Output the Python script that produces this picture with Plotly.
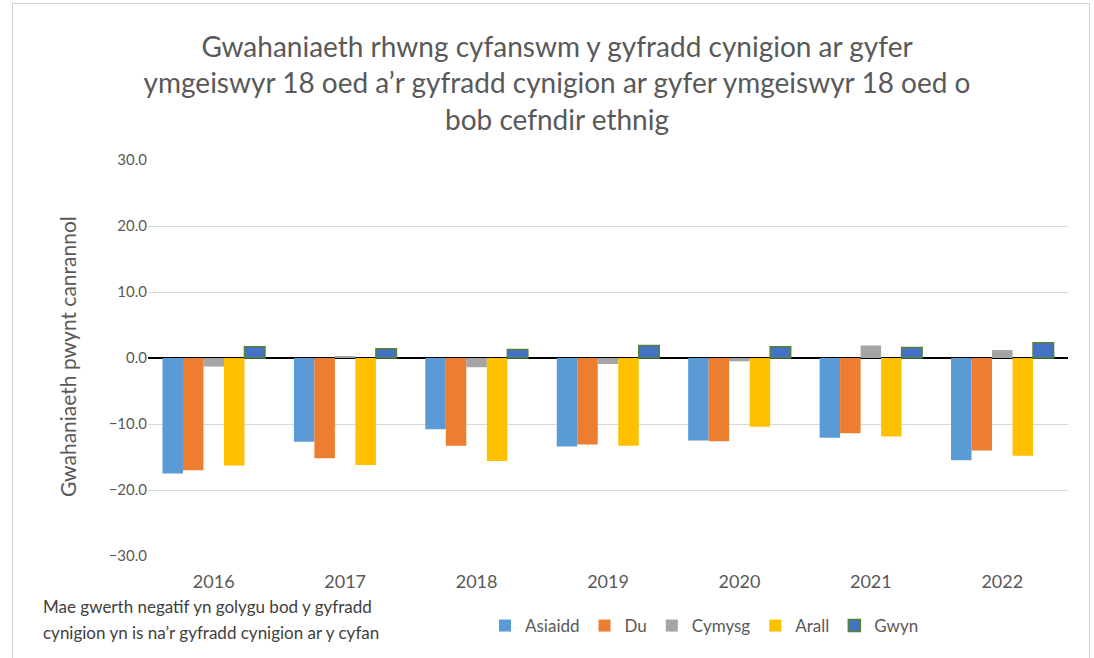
import plotly.graph_objects as go

years = ["2016", "2017", "2018", "2019", "2020", "2021", "2022"]
asiaidd = [-17.5, -12.7, -10.8, -13.4, -12.5, -12.1, -15.5]
du = [-17.0, -15.2, -13.3, -13.1, -12.6, -11.4, -14.0]
cymysg = [-1.3, 0.2, -1.4, -0.9, -0.5, 1.9, 1.2]
arall = [-16.3, -16.2, -15.6, -13.3, -10.4, -11.9, -14.8]
gwyn = [1.7, 1.4, 1.3, 1.9, 1.7, 1.6, 2.3]

series = [
    ("Asiaidd", asiaidd, "#5B9BD5", None),
    ("Du", du, "#ED7D31", None),
    ("Cymysg", cymysg, "#A5A5A5", None),
    ("Arall", arall, "#FFC000", None),
    ("Gwyn", gwyn, "#4472C4", "#548235"),
]

FONT = "Lato, Liberation Sans, sans-serif"
GREY = "#595959"

fig = go.Figure()
for name, vals, col, lc in series:
    fig.add_trace(go.Bar(
        name=name, x=years, y=vals,
        marker=dict(color=col,
                    line=dict(color=lc if lc else col, width=1.5 if lc else 0)),
    ))

W, H = 1094, 658
L, T = 148, 160
R = W - 1068
B = H - 556
pw = W - L - R
ph = H - T - B

def px(x):  # reference pixel -> paper
    return (x - L) / pw

def py(y):
    return (H - B - y) / ph

fig.update_layout(
    width=W, height=H,
    margin=dict(l=L, r=R, t=T, b=B),
    paper_bgcolor="white", plot_bgcolor="white",
    barmode="group", bargap=0.22, bargroupgap=0,
    font=dict(family=FONT, color=GREY, size=15),
    title=dict(
        text="Gwahaniaeth rhwng cyfanswm y gyfradd cynigion ar gyfer<br>ymgeiswyr 18 oed a’r gyfradd cynigion ar gyfer ymgeiswyr 18 oed o<br>bob cefndir ethnig",
        x=557 / W, xanchor="center", xref="container",
        y=1 - 57 / H, yanchor="middle", yref="container",
        font=dict(size=28, color=GREY, family=FONT),
    ),
    legend=dict(
        orientation="h", x=px(485), xanchor="left", y=py(626), yanchor="middle",
        font=dict(size=17, color=GREY), itemwidth=30, tracegroupgap=0,
        bgcolor="rgba(0,0,0,0)",
    ),
    xaxis=dict(
        showgrid=False, showline=False, ticks="outside", ticklen=9,
        tickcolor="rgba(0,0,0,0)",
        tickfont=dict(size=18, color=GREY),
    ),
    yaxis=dict(
        range=[-30, 30], dtick=10, tickformat=".1f",
        showgrid=True, gridcolor="#D9D9D9", gridwidth=1,
        zeroline=True, zerolinecolor="#000000", zerolinewidth=2,
        showline=False, ticks="",
        tickfont=dict(size=15, color=GREY),
    ),
    shapes=[dict(type="rect", xref="paper", yref="paper",
                 x0=px(12.5), x1=px(1089.5), y0=py(700), y1=py(3.5),
                 line=dict(color="#D0D0D0", width=1), fillcolor="rgba(0,0,0,0)",
                 layer="below")],
    annotations=[
        dict(text="Gwahaniaeth pwynt canrannol", textangle=-90,
             xref="paper", yref="paper", x=px(67), y=py(357),
             xanchor="center", yanchor="middle", showarrow=False,
             font=dict(size=21, color=GREY)),
        dict(text="Mae gwerth negatif yn golygu bod y gyfradd",
             xref="paper", yref="paper", x=px(41), y=py(606),
             xanchor="left", yanchor="middle", align="left", showarrow=False,
             font=dict(size=17, color="#404040")),
        dict(text="cynigion yn is na’r gyfradd cynigion ar y cyfan",
             xref="paper", yref="paper", x=px(41), y=py(632),
             xanchor="left", yanchor="middle", align="left", showarrow=False,
             font=dict(size=17, color="#404040")),
    ],
)

fig.write_html("out.html", config={"displayModeBar": False},
               post_script="document.body.style.margin='0';document.body.style.overflow='hidden';")
